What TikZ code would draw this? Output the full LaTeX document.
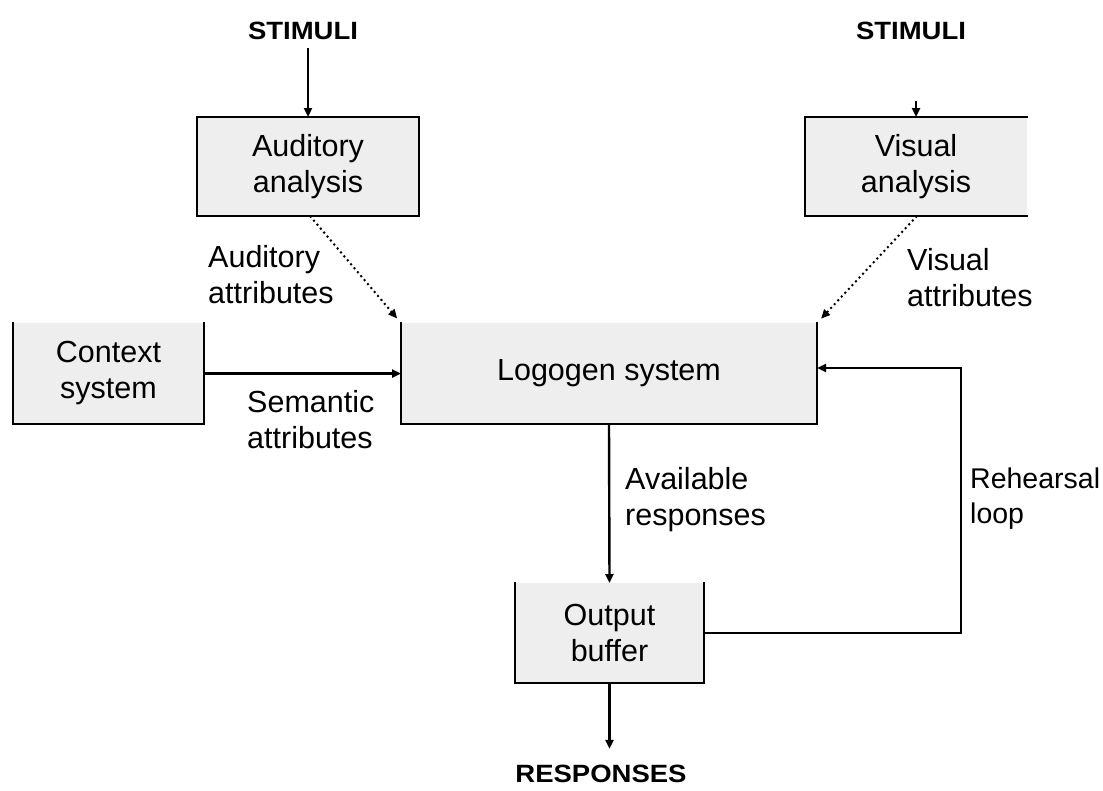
\documentclass[tikz,border=0pt]{standalone}
\usepackage{fontspec}
\setmainfont{Liberation Sans}
\usetikzlibrary{arrows.meta}
\definecolor{boxfill}{RGB}{238,238,238}
\tikzset{
  txt/.style={font=\fontsize{30.5}{36}\selectfont},
  lbl/.style={txt, align=left, anchor=west, inner sep=0pt},
  heading/.style={font=\fontsize{25}{29}\selectfont\bfseries, inner sep=0pt},
  boxshape/.style={txt, align=center, fill=boxfill, outer sep=0pt, inner sep=0pt},
  boxline/.style={line width=2.4pt, line cap=rect},
  arr/.style={line width=2.4pt, -{Triangle[length=9pt,width=8pt]}},
  dotarr/.style={line width=2pt, dash pattern=on 2pt off 3.2pt,
                 -{Triangle[length=9pt,width=8pt]}},
}
\begin{document}
\begin{tikzpicture}[x=1pt, y=-1pt]
\useasboundingbox (0,0) rectangle (1103,790);

% headings
\node[heading] (stimA) at (303,31) {\scalebox{1.1}[1]{STIMULI}};
\node[heading] (stimV) at (911,31) {\scalebox{1.1}[1]{STIMULI}};
\node[heading] (resp)  at (601,774) {\scalebox{1.1}[1]{RESPONSES}};

% boxes
\node[boxshape, minimum width=222pt, minimum height=99pt] (aud) at (308,166.5) {Auditory\\analysis};
\node[boxshape, minimum width=222pt, minimum height=99pt] (vis) at (916,166.5) {Visual\\analysis};
\node[boxshape, minimum width=191pt, minimum height=101pt] (ctx) at (108.5,373.5) {Context\\system};
\node[boxshape, minimum width=416pt, minimum height=101pt] (log) at (609,373.5) {Logogen system};
\node[boxshape, minimum width=189pt, minimum height=100pt] (out) at (609.5,633) {Output\\buffer};

% box outlines
\draw[boxline] (aud.north west) rectangle (aud.south east);
\draw[boxline] (vis.north east) -- (vis.north west) -- (vis.south west) -- (vis.south east);
\draw[boxline] (ctx.north west) -- (ctx.south west) -- (ctx.south east) -- (ctx.north east);
\draw[boxline] (log.north west) -- (log.south west) -- (log.south east) -- (log.north east);
\draw[boxline] (out.north west) -- (out.south west) -- (out.south east) -- (out.north east);

% labels
\node[lbl] (audattr) at (208,275) {Auditory\\attributes};
\node[lbl] (visattr) at (907,278) {Visual\\attributes};
\node[lbl] (semattr) at (247,420) {Semantic\\attributes};
\node[lbl] (avail)   at (625,500) {Available\\responses};
\node[lbl, font=\fontsize{28.5}{35}\selectfont] (rehears) at (970,499) {Rehearsal\\loop};

% connectors
\draw[arr] ([yshift=-8pt]stimA.south -| aud.north) -- (aud.north);
\coordinate (visin) at (916,101);
\draw[arr] (visin) -- (vis.north);
\draw[dotarr, shorten >=6pt] ([xshift=2pt]aud.south) -- (log.north west);
\draw[dotarr, shorten >=6pt] ([xshift=1pt]vis.south) -- (log.north east);
\draw[arr] (ctx.east) -- (log.west);
\draw[arr] (log.south) -- (out.north);
\draw[arr, shorten >=16pt] (out.south) -- (out.south |- resp.north);
\coordinate (loopB) at (961,633);
\coordinate (loopT) at (961,368);
\draw[arr] (out.east) -- (loopB) -- (loopT) -- (loopT -| log.east);
\end{tikzpicture}
\end{document}
